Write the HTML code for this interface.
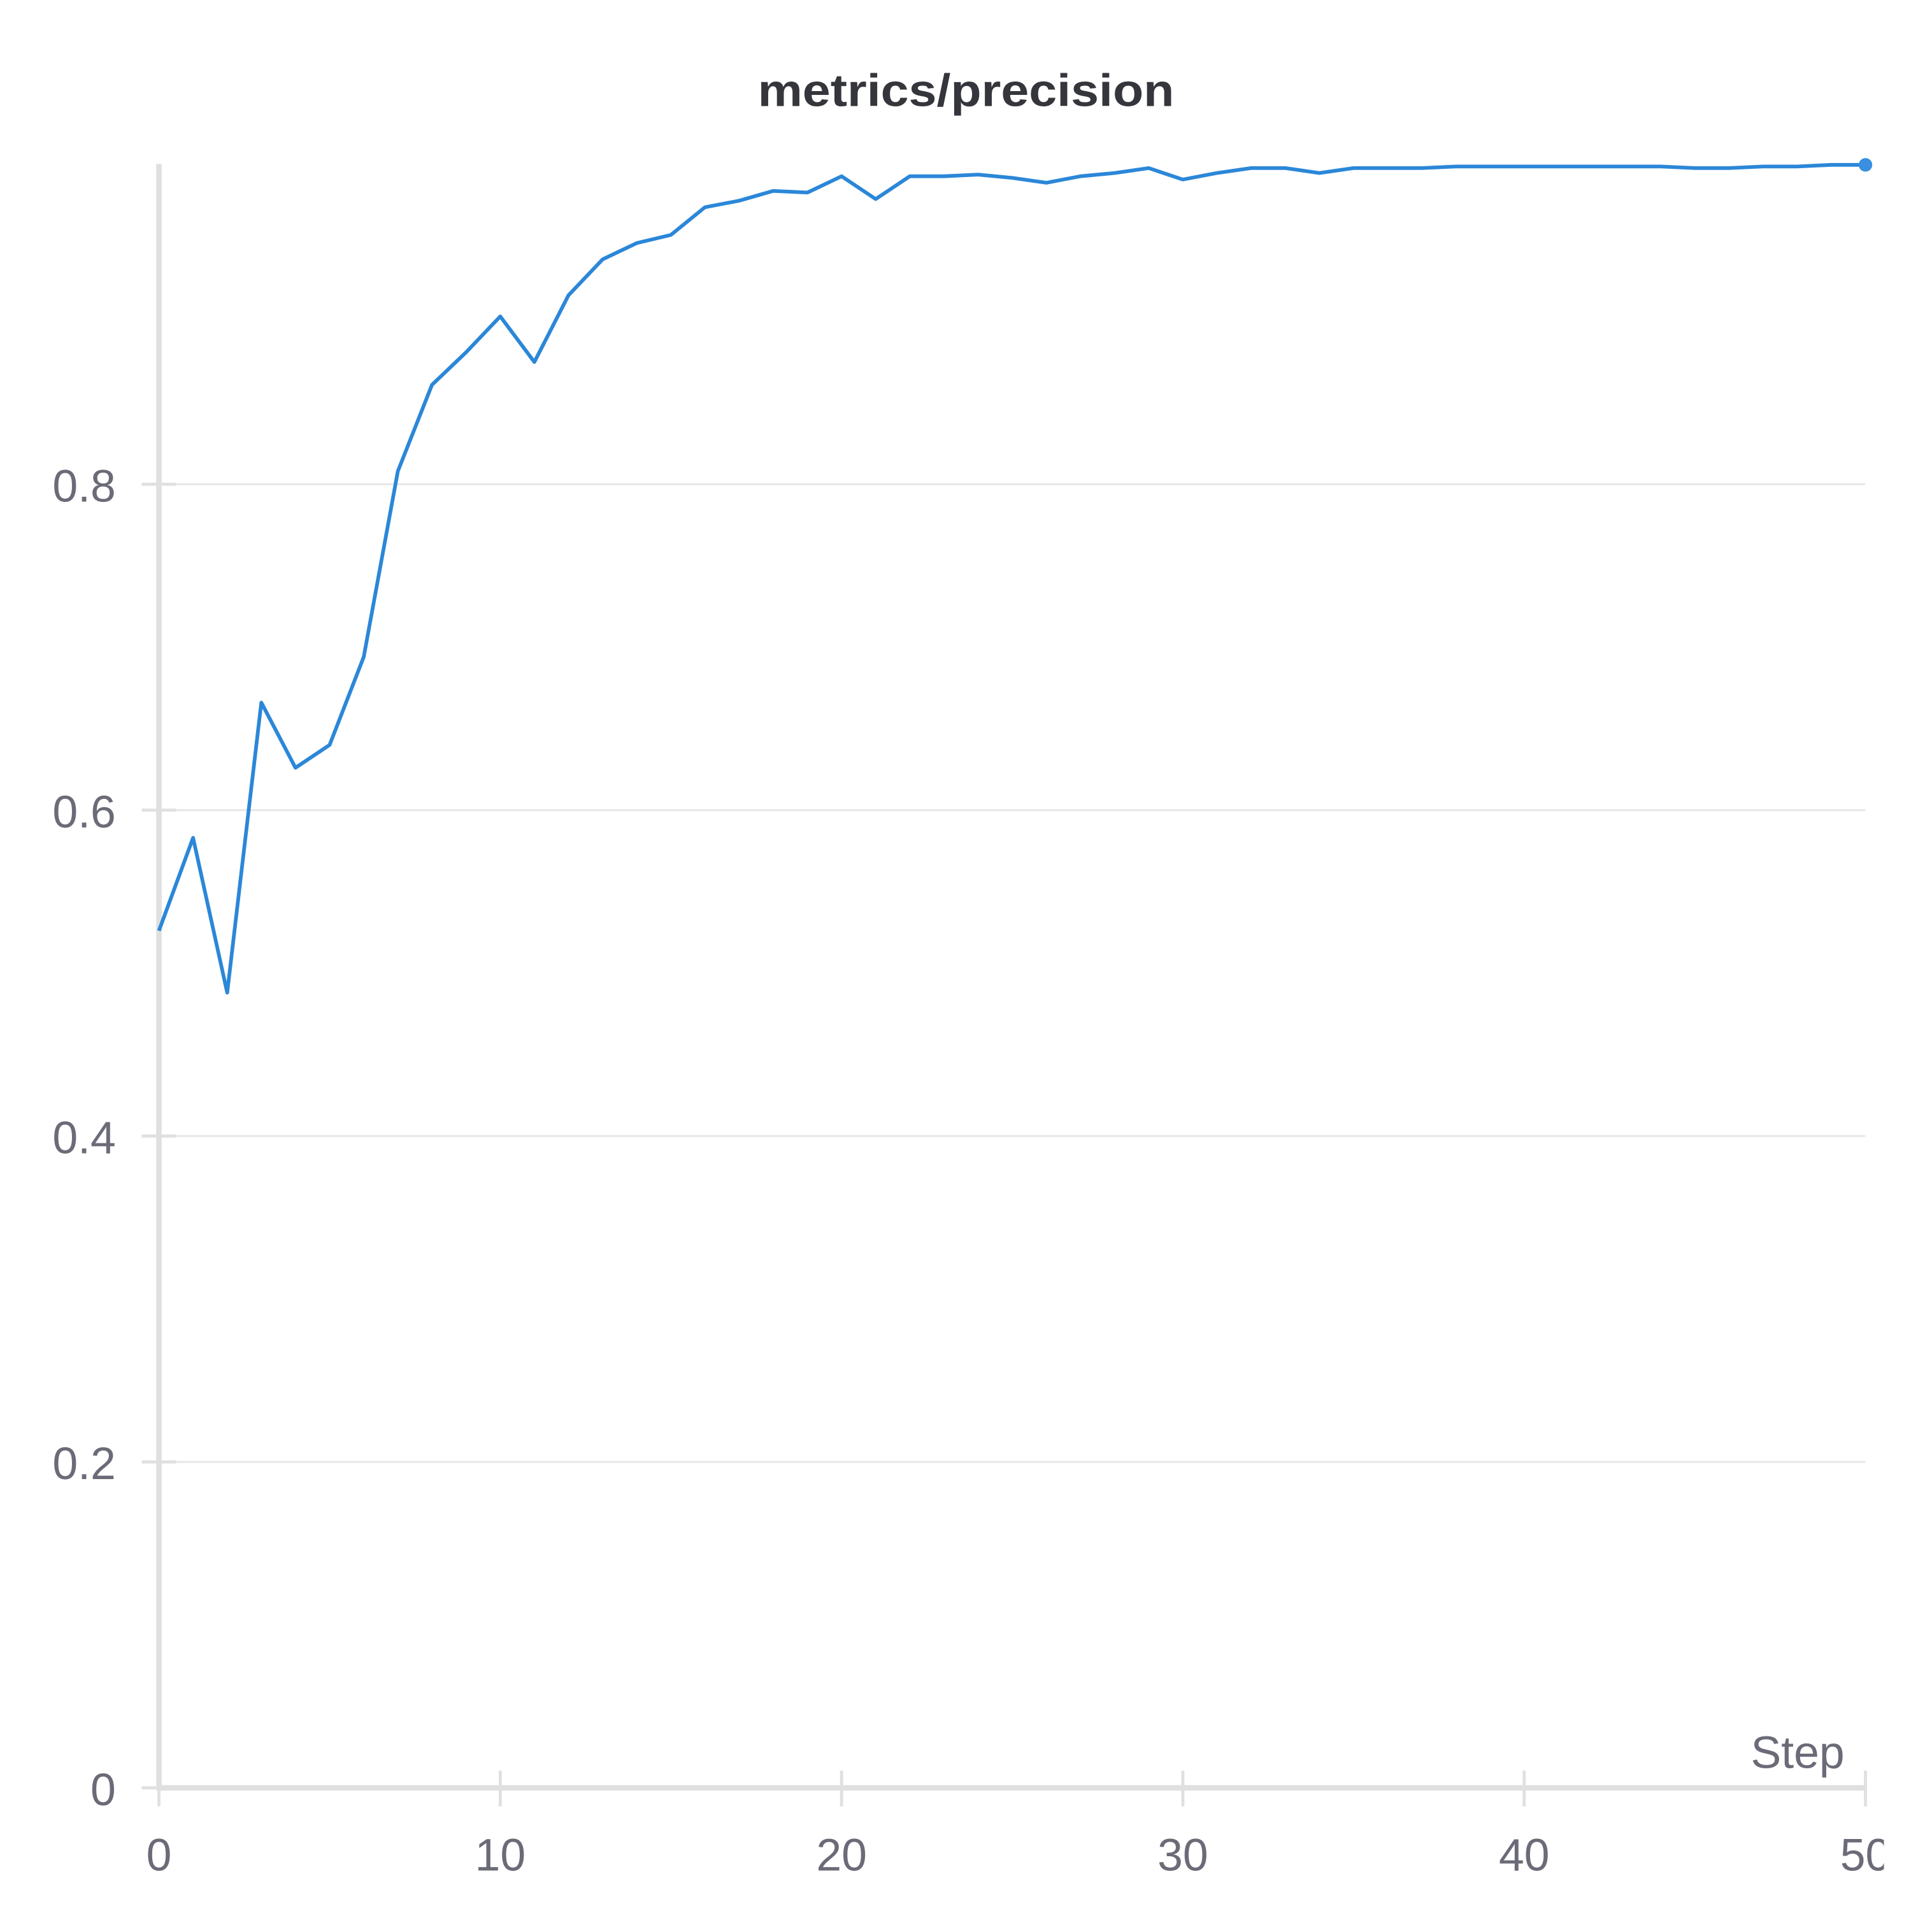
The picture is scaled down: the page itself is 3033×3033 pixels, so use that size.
<!DOCTYPE html>
<html><head><meta charset="utf-8"><style>
html,body{margin:0;padding:0;background:#fff;}
svg{display:block;}
text{font-family:"Liberation Sans",sans-serif;}
</style></head><body>
<svg id="chart" width="3033" height="3033" viewBox="0 0 1568 1568" xmlns="http://www.w3.org/2000/svg">
<defs><clipPath id="clipR"><rect x="0" y="0" width="1529" height="1568"/></clipPath></defs>
<text x="784" y="86" text-anchor="middle" font-size="37" font-weight="bold" fill="#35363c" textLength="338" lengthAdjust="spacingAndGlyphs">metrics/precision</text>
<g id="grid"></g>
<g id="axes" clip-path="url(#clipR)"></g>
<path id="series" fill="none" stroke="#2b87d8" stroke-width="3" stroke-linejoin="round"/>
<circle id="enddot" r="5.5" fill="#3a8fe0"/>
<text x="1497" y="1435" text-anchor="end" font-size="37" fill="#6b6b78">Step</text>
</svg>
<script>
const steps = [0,1,2,3,4,5,6,7,8,9,10,11,12,13,14,15,16,17,18,19,20,21,22,23,24,25,26,27,28,29,30,31,32,33,34,35,36,37,38,39,40,41,42,43,44,45,46,47,48,49,50];
const precision = [0.526,0.583,0.488,0.666,0.626,0.640,0.694,0.808,0.861,0.881,0.903,0.875,0.916,0.938,0.948,0.953,0.970,0.974,0.980,0.979,0.989,0.975,0.989,0.989,0.990,0.988,0.985,0.989,0.991,0.994,0.987,0.991,0.994,0.994,0.991,0.994,0.994,0.994,0.995,0.995,0.995,0.995,0.995,0.995,0.995,0.994,0.994,0.995,0.995,0.996,0.996];
const yTicks = [0,0.2,0.4,0.6,0.8];
const yTickLabels = ["0","0.2","0.4","0.6","0.8"];
const xTicks = [0,10,20,30,40,50];
const xTickLabels = ["0","10","20","30","40","50"];

const X0=129,X1=1514,Y0=1451,Yper=1322.5;
const xs = v => X0 + (v/50)*(X1-X0);
const ys = v => Y0 - v*Yper;
const NS="http://www.w3.org/2000/svg";
const grid=document.getElementById('grid'), axes=document.getElementById('axes');
function mk(tag,attrs,parent){const e=document.createElementNS(NS,tag);for(const k in attrs)e.setAttribute(k,attrs[k]);parent.appendChild(e);return e;}

yTicks.forEach((t,i)=>{
  const y=ys(t);
  if(t>0){const g=mk('line',{x1:X0,x2:X1,y1:y,y2:y,stroke:'#e6e6e6','stroke-width':1.5},grid);
    
    }
  const tk=mk('line',{x1:115,x2:143,y1:y,y2:y,stroke:'#e0e0e0','stroke-width':2.5},axes);
  
  
  const tx=mk('text',{x:94,y:y+14,'text-anchor':'end','font-size':37,fill:'#6b6b78'},axes);
  tx.textContent=yTickLabels[i];
  
  
});
const ya=mk('line',{x1:X0,x2:X0,y1:133,y2:Y0+2,stroke:'#e0e0e0','stroke-width':4.5},axes);


const xa=mk('line',{x1:X0-2,x2:X1,y1:Y0,y2:Y0,stroke:'#e0e0e0','stroke-width':4.5},axes);


xTicks.forEach((t,i)=>{
  const x=xs(t);
  const tk=mk('line',{x1:x,x2:x,y1:1437,y2:1466,stroke:'#e0e0e0','stroke-width':2.5},axes);
  
  
  const tx=mk('text',{x:x,y:1518,'text-anchor':'middle','font-size':37,fill:'#6b6b78'},axes);
  tx.textContent=xTickLabels[i];
  
  
});
document.getElementById('series').setAttribute('d', steps.map((s,i)=>(i?'L':'M')+xs(s)+' '+ys(precision[i])).join(' '));
const d=document.getElementById('enddot');
d.setAttribute('cx',xs(steps[steps.length-1]));
d.setAttribute('cy',ys(precision[precision.length-1]));
</script>
</body></html>
